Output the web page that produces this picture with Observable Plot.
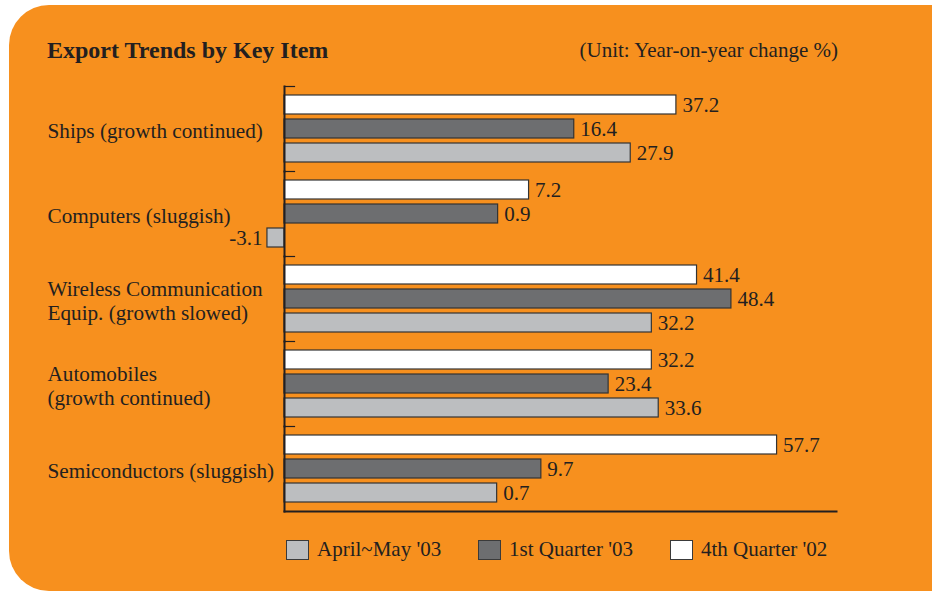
<!DOCTYPE html>
<html>
<head>
<meta charset="utf-8">
<script src="https://cdn.jsdelivr.net/npm/d3@7"></script>
<script src="https://cdn.jsdelivr.net/npm/@observablehq/plot@0.6"></script>
<style>
  html, body { margin: 0; padding: 0; background: #fff; width: 932px; height: 591px; overflow: hidden; }
  #panel { position: absolute; left: 9px; top: 5px; width: 960px; height: 586px; background: #F7901E; border-radius: 40px 0 0 40px; }
  .txt { position: absolute; font-family: "Liberation Serif", serif; color: #231F20; line-height: 1; white-space: nowrap; }
  #title { left: 47px; top: 38px; font-size: 24px; font-weight: bold; }
  #unit { right: 94px; top: 40px; font-size: 21px; }
  #chart { position: absolute; left: 0; top: 0; }
  .leg { position: absolute; top: 537px; display: flex; align-items: center; font-family: "Liberation Serif", serif; font-size: 21px; color: #231F20; }
  .sw { width: 21px; height: 18px; border: 1px solid #3a3a3a; margin-right: 8px; }
</style>
</head>
<body>
<div id="panel"></div>
<div id="title" class="txt">Export Trends by Key Item</div>
<div id="unit" class="txt">(Unit: Year-on-year change %)</div>
<div id="chart"></div>
<div id="legend"></div>
<script>
// Categories (top to bottom)
const categories = [
  "Ships (growth continued)",
  "Computers (sluggish)",
  "Wireless Communication\nEquip. (growth slowed)",
  "Automobiles\n(growth continued)",
  "Semiconductors (sluggish)"
];
// Series names (top bar to bottom bar within each group)
const seriesNames = ["4th Quarter '02", "1st Quarter '03", "April~May '03"];
// Values (year-on-year change %)
const q4_02    = [37.2, 7.2, 41.4, 32.2, 57.7];
const q1_03    = [16.4, 0.9, 48.4, 23.4, 9.7];
const aprMay03 = [27.9, -3.1, 32.2, 33.6, 0.7];
// Legend order (left to right)
const legendOrder = ["April~May '03", "1st Quarter '03", "4th Quarter '02"];
const seriesColors = ["#FFFFFF", "#6D6E70", "#BCBEC0"];

const seriesValues = [q4_02, q1_03, aprMay03];
const data = categories.flatMap((c, i) =>
  seriesNames.map((s, j) => ({category: c, series: s, value: seriesValues[j][i]}))
);

const ink = "#231F20";
const chart = Plot.plot({
  width: 932,
  height: 520,
  marginLeft: 284,
  marginRight: 96,
  marginTop: 86,
  marginBottom: 9,
  style: {background: "transparent", fontFamily: "Liberation Serif, serif", fontSize: "20px", color: ink},
  x: {domain: [0, 112.4], transform: v => v > 0 ? v + 42.6 : v * 1.12, axis: null},
  y: {domain: seriesNames, paddingInner: 0.224, paddingOuter: 0.347, axis: null},
  fy: {domain: categories, padding: 0, axis: null},
  color: {domain: seriesNames, range: seriesColors},
  marks: [
    Plot.barX(data, {fy: "category", y: "series", x1: 0, x2: "value", fill: "series", stroke: "#333333", strokeWidth: 1.2}),
    Plot.text(data.filter(d => d.value >= 0), {fy: "category", y: "series", x: "value", text: d => d.value.toFixed(1), textAnchor: "start", dx: 6, fill: ink, fontSize: 21}),
    Plot.text(data.filter(d => d.value < 0), {fy: "category", y: "series", x: "value", text: d => d.value.toFixed(1), textAnchor: "end", dx: -5, fill: ink, fontSize: 21}),
    Plot.text(categories, {fy: d => d, text: d => d, frameAnchor: "left", textAnchor: "start", dx: -237, dy: 1, fill: ink, fontSize: 21.2, lineHeight: 1.17}),
    Plot.frame({anchor: "top", insetRight: 542, stroke: ink, strokeWidth: 1.2}),
    Plot.frame({anchor: "left", stroke: ink, strokeWidth: 2}),
    Plot.frame({anchor: "bottom", fy: () => categories[categories.length - 1], stroke: ink, strokeWidth: 2})
  ]
});
document.getElementById("chart").appendChild(chart);

// Legend
const legendX = [286, 478, 670];
const legend = document.getElementById("legend");
legendOrder.forEach((name, i) => {
  const item = document.createElement("div");
  item.className = "leg";
  item.style.left = legendX[i] + "px";
  const sw = document.createElement("div");
  sw.className = "sw";
  sw.style.background = seriesColors[seriesNames.indexOf(name)];
  const t = document.createElement("span");
  t.textContent = name;
  item.appendChild(sw);
  item.appendChild(t);
  legend.appendChild(item);
});
</script>
</body>
</html>
